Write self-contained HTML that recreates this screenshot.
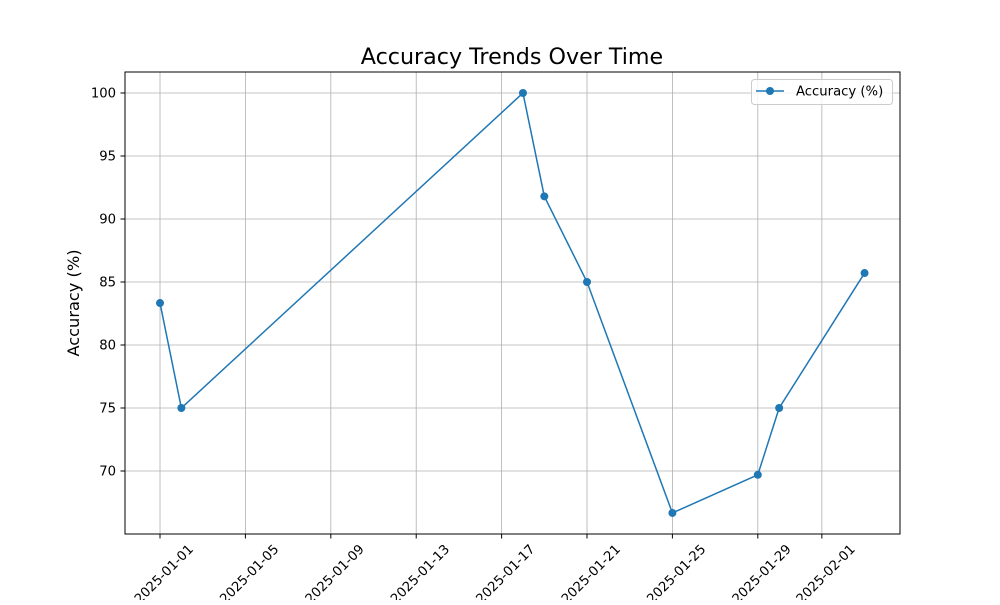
<!DOCTYPE html>
<html><head><meta charset="utf-8"><style>body{margin:0;background:#fff}svg{font-family:"DejaVu Sans","Liberation Sans",sans-serif}</style></head>
<body>
<svg id="chart" width="1000" height="600">
<rect width="1000" height="600" fill="#fff"/>
<text x="512" y="64" font-size="22.2" text-anchor="middle">Accuracy Trends Over Time</text>
<text transform="translate(79,303) rotate(-90)" font-size="16.2" text-anchor="middle">Accuracy (%)</text>
<g id="grid"></g><g id="axes"></g><g id="series"></g>
<rect x="125" y="72" width="775" height="462" fill="none" stroke="#000" stroke-width="1"/>
<g>
<rect x="751.5" y="79.5" width="141" height="25" rx="3" fill="#fff" fill-opacity="0.8" stroke="#ccc"/>
<line x1="756" y1="91" x2="784" y2="91" stroke="#1f77b4" stroke-width="1.5"/>
<circle cx="770" cy="91" r="4" fill="#1f77b4"/>
<text x="796" y="95.5" font-size="13.2">Accuracy (%)</text>
</g>
</svg>
<script>
const dates = ["2025-01-01","2025-01-02","2025-01-18","2025-01-19","2025-01-21","2025-01-25","2025-01-29","2025-01-30","2025-02-03"];
const accuracy = [83.33,75,100,91.8,85,66.67,69.7,75,85.71];
const xTickLabels = ["2025-01-01","2025-01-05","2025-01-09","2025-01-13","2025-01-17","2025-01-21","2025-01-25","2025-01-29","2025-02-01"];
const yTicks = [70,75,80,85,90,95,100];
const NS="http://www.w3.org/2000/svg";
const base=Date.UTC(2025,0,1);
function day(s){const [y,m,d]=s.split("-").map(Number);return (Date.UTC(y,m-1,d)-base)/86400000;}
const X=d=>125+(d+1.64)/(36.3)*775;
const Y=v=>534-(v-65)/(101.667-65)*462;
function mk(t,a,p){const e=document.createElementNS(NS,t);for(const k in a)e.setAttribute(k,a[k]);p.appendChild(e);return e;}
const grid=document.getElementById("grid"),axes=document.getElementById("axes"),ser=document.getElementById("series");
xTickLabels.forEach(l=>{const x=X(day(l));
const g=mk("line",{x1:x,x2:x,y1:72,y2:534,stroke:"#b0b0b0","stroke-width":0.8},grid);


mk("line",{x1:x,x2:x,y1:534,y2:538.5,stroke:"#000"},axes);
const t=mk("text",{x:0,y:0,"font-size":13.2,"text-anchor":"end",transform:`translate(${x+34},${550}) rotate(-45)`},axes);
t.textContent=l;

});
yTicks.forEach(v=>{const y=Y(v);
const g=mk("line",{x1:125,x2:900,y1:y,y2:y,stroke:"#b0b0b0","stroke-width":0.8},grid);


mk("line",{x1:120.5,x2:125,y1:y,y2:y,stroke:"#000"},axes);
const t=mk("text",{x:116,y:y+4.5,"font-size":13.2,"text-anchor":"end"},axes);
t.textContent=v;

});
const pts=dates.map((d,i)=>[X(day(d)),Y(accuracy[i])]);
const pl=mk("polyline",{points:pts.map(p=>p.join(",")).join(" "),fill:"none",stroke:"#1f77b4","stroke-width":1.5},ser);


pts.forEach(p=>{const c=mk("circle",{cx:p[0],cy:p[1],r:4,fill:"#1f77b4"},ser);

});
</script>
</body></html>
